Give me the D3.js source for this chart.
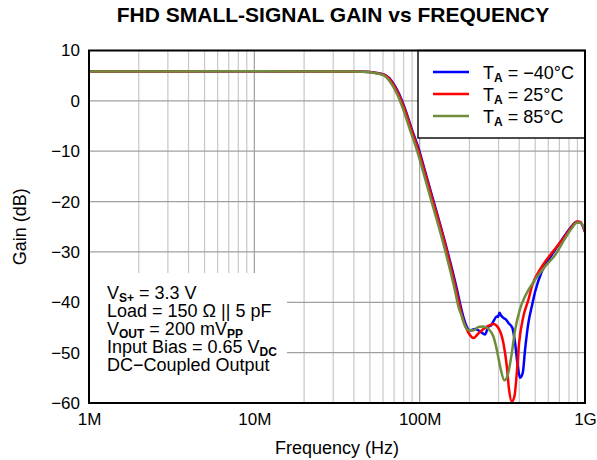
<!DOCTYPE html>
<html>
<head>
<meta charset="utf-8">
<script src="https://cdn.jsdelivr.net/npm/d3@7"></script>
<style>
  body { margin: 0; background: white; }
  text { font-family: "Liberation Sans", Arial, sans-serif; fill: black; }
</style>
</head>
<body>
<div id="chart"></div>
<script>
// frequency in MHz, gain in dB
var freqCold = [1, 10, 30, 46, 54, 62, 68.2, 74.8, 82, 90, 99, 106, 118, 143, 169, 177, 186, 201.8, 216.3, 232, 248.7, 260.4, 270, 279.2, 292.7, 298, 303.5, 312, 320.9, 332, 344.1, 363.8, 377.7, 392.2, 404.9, 420.4, 434.1, 454.6, 476.7, 499.1, 547.9, 629.8, 723.8, 812.6, 892, 934, 1000];
var gainCold = [5.85, 5.9, 5.85, 5.8, 5.6, 5.1, 3.8, 1.5, -1.8, -5.8, -9.7, -13.1, -18.5, -28.3, -37.8, -40.8, -43.5, -45.6, -45.3, -45.8, -46.4, -44.8, -44.6, -43.8, -42.8, -42.9, -42.1, -42.7, -43.1, -43.4, -44.1, -45.1, -48.1, -52.7, -55.0, -54.0, -49.4, -44.1, -40.8, -37.9, -33.9, -30.6, -27.6, -25.3, -24.0, -24.1, -26];

var freqRoom = [1, 10, 30, 45.5, 53.4, 61.5, 67.6, 74.1, 81.4, 89.3, 98, 105.2, 117, 142, 167, 175, 183, 197.1, 211.3, 226.5, 242.9, 260.4, 279.2, 299.3, 320.9, 336.5, 347.4, 360.8, 374.1, 386.8, 399.3, 423.9, 454.6, 476.7, 547.9, 629.8, 740.1, 832, 892, 934, 1000];
var gainRoom = [5.85, 5.9, 5.85, 5.8, 5.6, 5.1, 3.8, 1.5, -1.8, -5.8, -9.7, -13.1, -18.5, -28.3, -37.8, -40.8, -43.5, -46.0, -47.1, -46.2, -45.3, -44.7, -44.3, -45.1, -48.1, -52.7, -57.4, -59.7, -58.7, -54.0, -48.1, -42.8, -39.5, -36.9, -32.9, -30.2, -27.3, -25.0, -24.0, -24.0, -26];

var freqHot = [1, 10, 30, 45, 52.3, 60.3, 66.2, 72.6, 79.7, 87.5, 96.0, 103, 114.5, 139, 163.8, 171.4, 179.8, 186, 197.1, 211.3, 226.5, 242.9, 260.4, 279.2, 292.7, 306.5, 325.4, 341.2, 360.8, 377.7, 404.9, 434, 499.1, 573.6, 659.4, 757.8, 832, 892, 934, 1000];
var gainHot = [5.85, 5.9, 5.85, 5.8, 5.6, 5.1, 3.8, 1.5, -1.8, -5.8, -9.7, -13.1, -18.5, -28.3, -37.8, -40.8, -42.8, -44.3, -45.5, -45.6, -44.9, -44.8, -45.3, -46.8, -49.4, -52.7, -55.5, -54.4, -50.1, -45.5, -41.3, -38.8, -35.5, -32.9, -30.6, -27.3, -25.3, -24.2, -24.2, -25.6];

var seriesTemps = ["\u221240\u00b0C", "25\u00b0C", "85\u00b0C"];
var seriesColors = ["#0000ff", "#ff0000", "#708c3c"];

var xTickValues = [1, 10, 100, 1000];
var xTickLabels = ["1M", "10M", "100M", "1G"];
var yTickValues = [-60, -50, -40, -30, -20, -10, 0, 10];

var width = 597, height = 460;
var plotLeft = 89, plotRight = 585, plotTop = 50.5, plotBottom = 403;

var svg = d3.select("#chart")
  .append("svg")
  .attr("width", width)
  .attr("height", height);

var x = d3.scaleLog().domain([1, 1000]).range([plotLeft, plotRight]);
var y = d3.scaleLinear().domain([-60, 10]).range([plotBottom, plotTop]);

// grid
var minor = [];
[1, 10, 100].forEach(function(d) {
  for (var k = 2; k <= 9; k++) minor.push(d * k);
});

svg.append("g").selectAll("line")
  .data(minor)
  .enter().append("line")
  .attr("x1", function(d) { return x(d); })
  .attr("x2", function(d) { return x(d); })
  .attr("y1", plotTop)
  .attr("y2", plotBottom)
  .style("stroke", "#c8c8c8")
  .style("stroke-width", 1.2);

svg.append("g").selectAll("line")
  .data(xTickValues)
  .enter().append("line")
  .attr("x1", function(d) { return x(d); })
  .attr("x2", function(d) { return x(d); })
  .attr("y1", plotTop)
  .attr("y2", plotBottom)
  .style("stroke", "#a0a0a0")
  .style("stroke-width", 1.2);

svg.append("g").selectAll("line")
  .data(yTickValues)
  .enter().append("line")
  .attr("x1", plotLeft)
  .attr("x2", plotRight)
  .attr("y1", function(d) { return y(d); })
  .attr("y2", function(d) { return y(d); })
  .style("stroke", "#a0a0a0")
  .style("stroke-width", 1.2);

// curves
var series = [
  { freq: freqCold, gain: gainCold },
  { freq: freqRoom, gain: gainRoom },
  { freq: freqHot, gain: gainHot }
];

var line = d3.line()
  .x(function(d) { return x(d[0]); })
  .y(function(d) { return y(d[1]); })
  .curve(d3.curveMonotoneX);

series.forEach(function(s, i) {
  svg.append("path")
    .datum(d3.zip(s.freq, s.gain))
    .attr("d", line)
    .style("fill", "none")
    .style("stroke", seriesColors[i])
    .style("stroke-width", 2.5)
    .style("stroke-linejoin", "round");
});

// conditions box
svg.append("rect")
  .attr("x", plotLeft)
  .attr("y", 273)
  .attr("width", 198)
  .attr("height", plotBottom - 273)
  .style("fill", "white");

// text with bold subscripts: parts alternate normal / {sub}
function richText(sel, parts) {
  var shift = 0;
  parts.forEach(function(p) {
    if (p.sub) {
      sel.append("tspan").attr("dy", 3 - shift)
        .style("font-size", "12px").style("font-weight", "bold").text(p.sub);
      shift = 3;
    } else {
      sel.append("tspan").attr("dy", -shift).text(p.t);
      shift = 0;
    }
  });
}

var notes = svg.append("g").style("font-size", "18px");
var noteRows = [
  [{ t: "V" }, { sub: "S+" }, { t: " = 3.3 V" }],
  [{ t: "Load = 150 \u03a9 || 5 pF" }],
  [{ t: "V" }, { sub: "OUT" }, { t: " = 200 mV" }, { sub: "PP" }],
  [{ t: "Input Bias = 0.65 V" }, { sub: "DC" }],
  [{ t: "DC\u2212Coupled Output" }]
];
noteRows.forEach(function(parts, i) {
  var t = notes.append("text").attr("x", 107).attr("y", 299 + i * 18.1);
  richText(t, parts);
});

// legend
svg.append("rect")
  .attr("x", 418)
  .attr("y", plotTop)
  .attr("width", plotRight - 418)
  .attr("height", 138 - plotTop)
  .style("fill", "white")
  .style("stroke", "black")
  .style("stroke-width", 1.4);

seriesTemps.forEach(function(name, i) {
  var ly = 72 + i * 22;
  svg.append("line")
    .attr("x1", 433).attr("x2", 469)
    .attr("y1", ly).attr("y2", ly)
    .style("stroke", seriesColors[i])
    .style("stroke-width", 2.5);
  var t = svg.append("text")
    .attr("x", 483)
    .attr("y", ly + 6.5)
    .style("font-size", "18px");
  richText(t, [{ t: "T" }, { sub: "A" }, { t: " = " + name }]);
});

// plot frame
svg.append("rect")
  .attr("x", plotLeft)
  .attr("y", plotTop)
  .attr("width", plotRight - plotLeft)
  .attr("height", plotBottom - plotTop)
  .style("fill", "none")
  .style("stroke", "black")
  .style("stroke-width", 2);

// axes labels
var xAxis = d3.axisBottom(x)
  .tickValues(xTickValues)
  .tickFormat(function(d, i) { return xTickLabels[i]; })
  .tickSize(0)
  .tickPadding(10);

svg.append("g")
  .attr("transform", "translate(0," + plotBottom + ")")
  .call(xAxis)
  .call(function(g) { g.select(".domain").remove(); })
  .selectAll("text")
  .style("font-size", "17px")
  .style("font-family", "'Liberation Sans', Arial, sans-serif")
  .style("fill", "black");

var yAxis = d3.axisLeft(y)
  .tickValues(yTickValues)
  .tickSize(0)
  .tickPadding(9);

svg.append("g")
  .attr("transform", "translate(" + plotLeft + ",0)")
  .call(yAxis)
  .call(function(g) { g.select(".domain").remove(); })
  .selectAll("text")
  .style("font-size", "17px")
  .style("font-family", "'Liberation Sans', Arial, sans-serif")
  .style("fill", "black");

svg.append("text")
  .attr("x", (plotLeft + plotRight) / 2)
  .attr("y", 454)
  .style("text-anchor", "middle")
  .style("font-size", "18px")
  .text("Frequency (Hz)");

svg.append("text")
  .attr("transform", "translate(26," + ((plotTop + plotBottom) / 2) + ") rotate(-90)")
  .style("text-anchor", "middle")
  .style("font-size", "18px")
  .text("Gain (dB)");

svg.append("text")
  .attr("x", 333)
  .attr("y", 22)
  .style("text-anchor", "middle")
  .style("font-size", "21px")
  .style("font-weight", "bold")
  .text("FHD SMALL-SIGNAL GAIN vs FREQUENCY");
</script>
</body>
</html>
